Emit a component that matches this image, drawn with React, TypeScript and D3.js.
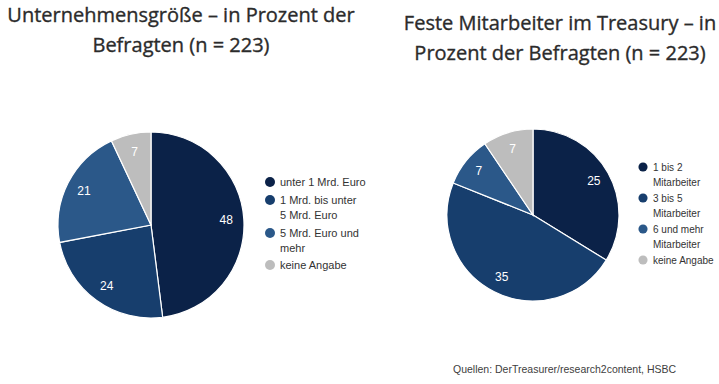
import React from "react";
import * as d3 from "d3";

// Unternehmensgröße
const sizeLabels = [
  ["unter 1 Mrd. Euro"],
  ["1 Mrd. bis unter", "5 Mrd. Euro"],
  ["5 Mrd. Euro und", "mehr"],
  ["keine Angabe"],
];
const sizeValues = [48, 24, 21, 7];

// Feste Mitarbeiter im Treasury
const staffLabels = [
  ["1 bis 2", "Mitarbeiter"],
  ["3 bis 5", "Mitarbeiter"],
  ["6 und mehr", "Mitarbeiter"],
  ["keine Angabe"],
];
const staffValues = [25, 35, 7, 7];

const colors = ["#0b2248", "#173e6d", "#2b5889", "#bdbdbd"];

const titleFont = "'Open Sans', sans-serif";
const bodyFont = "'Liberation Sans', Arial, sans-serif";

const Pie = ({
  cx,
  cy,
  r,
  values,
}: {
  cx: number;
  cy: number;
  r: number;
  values: number[];
}) => {
  const pie = d3.pie<number>().sort(null).value((d) => d);
  const arc = d3.arc<d3.PieArcDatum<number>>().innerRadius(0).outerRadius(r);
  const labelArc = d3
    .arc<d3.PieArcDatum<number>>()
    .innerRadius(r * 0.81)
    .outerRadius(r * 0.81);
  const arcs = pie(values);
  return (
    <g transform={`translate(${cx},${cy})`}>
      {arcs.map((a, i) => (
        <path key={i} d={arc(a) || ""} fill={colors[i]} stroke="#fff" strokeWidth={1.2} />
      ))}
      {arcs.map((a, i) => {
        const [x, y] = labelArc.centroid(a);
        return (
          <text
            key={"t" + i}
            x={x}
            y={y}
            dy="0.35em"
            textAnchor="middle"
            fontFamily={bodyFont}
            fontSize={12}
            fill="#fff"
          >
            {a.data}
          </text>
        );
      })}
    </g>
  );
};

const Legend = ({
  x,
  ys,
  labels,
  lineH,
  size,
}: {
  x: number;
  ys: number[];
  labels: string[][];
  lineH: number;
  size: number;
}) => (
  <g>
    {labels.map((lines, i) => (
      <g key={i}>
        <circle cx={x} cy={ys[i]} r={size / 2.2} fill={colors[i]} />
        {lines.map((l, j) => (
          <text
            key={j}
            x={x + 10}
            y={ys[i] + j * lineH}
            dy="0.35em"
            fontFamily={bodyFont}
            fontSize={size}
            fill="#333"
          >
            {l}
          </text>
        ))}
      </g>
    ))}
  </g>
);

const Title = ({ x, ys, lines }: { x: number; ys: number[]; lines: string[] }) => (
  <g>
    {lines.map((l, i) => (
      <text
        key={i}
        x={x}
        y={ys[i]}
        dy="0.35em"
        textAnchor="middle"
        fontFamily={titleFont}
        fontSize={20}
        fill="#2b2b2b"
        stroke="#2b2b2b"
        strokeWidth={0.35}
      >
        {l}
      </text>
    ))}
  </g>
);

export default function App() {
  return (
    <svg
      width={719}
      height={384}
      style={{ position: "absolute", left: 0, top: 0, background: "#fff" }}
    >
      <Title
        x={181}
        ys={[15, 45]}
        lines={["Unternehmensgröße – in Prozent der", "Befragten (n = 223)"]}
      />
      <Title
        x={560}
        ys={[23, 53]}
        lines={["Feste Mitarbeiter im Treasury – in", "Prozent der Befragten (n = 223)"]}
      />
      <Pie cx={151} cy={225} r={93} values={sizeValues} />
      <Pie cx={533} cy={215} r={86} values={staffValues} />
      <Legend x={270} ys={[182, 200, 233, 265]} labels={sizeLabels} lineH={15} size={11} />
      <Legend x={643} ys={[167, 198, 229, 260]} labels={staffLabels} lineH={15} size={10} />
      <text
        x={453}
        y={369}
        dy="0.35em"
        fontFamily={bodyFont}
        fontSize={10.5}
        fill="#404040"
      >
        Quellen: DerTreasurer/research2content, HSBC
      </text>
    </svg>
  );
}
